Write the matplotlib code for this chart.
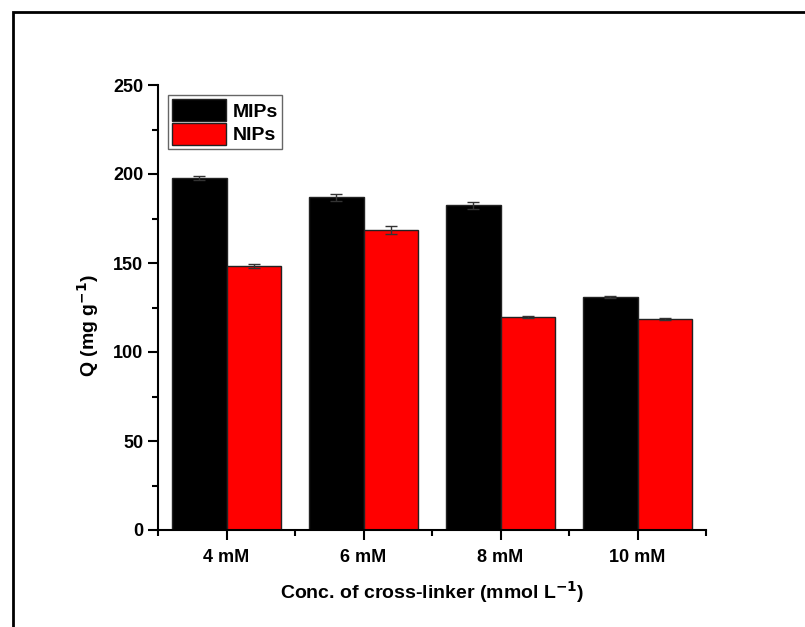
import matplotlib
matplotlib.use("Agg")
import matplotlib.pyplot as plt
from matplotlib.patches import Rectangle
from matplotlib.ticker import MultipleLocator, FixedLocator
import numpy as np

categories = ["4 mM", "6 mM", "8 mM", "10 mM"]
mips = [197.8, 186.8, 182.4, 131.1]
mips_err = [1.0, 1.8, 1.8, 0.5]
nips = [148.4, 168.6, 119.9, 118.5]
nips_err = [1.0, 2.3, 0.6, 0.5]

plt.rcParams['font.family'] = ['Liberation Sans', 'DejaVu Sans']
plt.rcParams['font.weight'] = 'bold'
plt.rcParams['mathtext.default'] = 'bf'

fig = plt.figure(figsize=(8.05, 6.27), dpi=100)
W, H = 805, 627
# outer frame
fig.patches.append(Rectangle((13 / W, -0.1), 1.2, (H - 12) / H + 0.1,
                             transform=fig.transFigure, fill=False,
                             edgecolor='black', linewidth=2))

ax = fig.add_axes([158 / W, (H - 530) / H, (706 - 158) / W, (530 - 85) / H])
x = np.arange(len(categories))
w = 0.4
ax.bar(x - w / 2, mips, w, color='black', edgecolor='#222222', linewidth=1,
       label='MIPs', yerr=mips_err, capsize=4,
       error_kw=dict(ecolor='#333333', elinewidth=1, capthick=1))
ax.bar(x + w / 2, nips, w, color='#ff0000', edgecolor='#222222', linewidth=1,
       label='NIPs', yerr=nips_err, capsize=4,
       error_kw=dict(ecolor='#333333', elinewidth=1, capthick=1))

ax.set_xlim(-0.5, len(categories) - 0.5)
ax.set_ylim(0, 250)
ax.set_xticks(x)
ax.set_xticklabels(categories)
ax.xaxis.set_minor_locator(FixedLocator(np.arange(-0.5, len(categories), 1.0)))
ax.yaxis.set_major_locator(MultipleLocator(50))
ax.yaxis.set_minor_locator(MultipleLocator(25))
for s in ['top', 'right']:
    ax.spines[s].set_visible(False)
for s in ['left', 'bottom']:
    ax.spines[s].set_linewidth(1.5)
ax.tick_params(which='major', direction='out', length=7, width=1.5, labelsize=13)
ax.tick_params(which='minor', direction='out', length=4, width=1.5)
ax.tick_params(axis='x', which='major', pad=7)
for lab in ax.get_xticklabels() + ax.get_yticklabels():
    lab.set_fontweight('bold')

ax.set_xlabel("Conc. of cross-linker (mmol L$^{-1}$)", fontsize=14,
              fontweight='bold', labelpad=9)
ax.set_ylabel("Q (mg g$^{-1}$)", fontsize=14, fontweight='bold')
ax.yaxis.set_label_coords(-0.104, 0.46)

leg = ax.legend(loc='upper left', bbox_to_anchor=(0.018, 0.977),
                borderaxespad=0, handlelength=2.8, handleheight=1.35,
                handletextpad=0.35, borderpad=0.2, labelspacing=0.1,
                fancybox=False, edgecolor='#666666', framealpha=1,
                prop={'weight': 'bold', 'size': 14})
leg.get_frame().set_linewidth(1)

fig.savefig("out.png", dpi=100)
